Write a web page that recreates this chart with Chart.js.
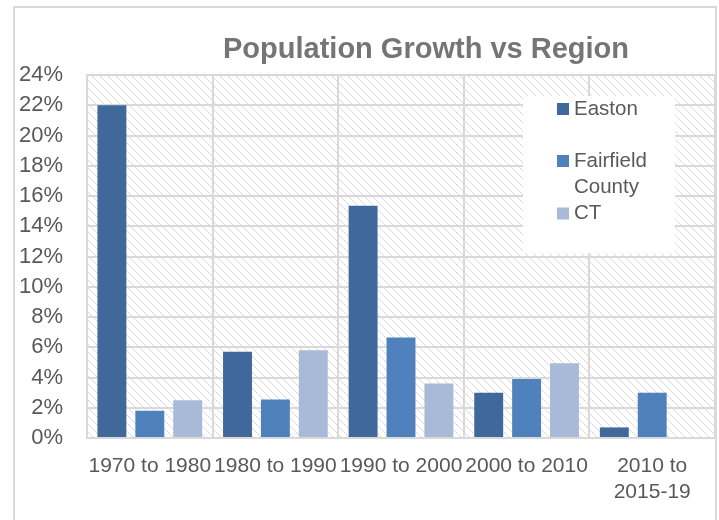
<!DOCTYPE html>
<html>
<head>
<meta charset="utf-8">
<script src="https://cdn.jsdelivr.net/npm/chart.js@4/dist/chart.umd.min.js"></script>
<style>
    html, body { margin: 0; padding: 0; background: #fff; }
    #wrap { position: relative; width: 719px; height: 520px; }
</style>
</head>
<body>
<div id="wrap"><canvas id="mainChart" width="719" height="520"></canvas></div>
<script>
// Data
const categories = ['1970 to 1980', '1980 to 1990', '1990 to 2000', '2000 to 2010', ['2010 to', '2015-19']];
const seriesNames = ['Easton', 'Fairfield County', 'CT'];
const eastonValues = [22.0, 5.7, 15.35, 3.0, 0.7];
const fairfieldValues = [1.8, 2.55, 6.65, 3.9, 3.0];
const ctValues = [2.5, 5.8, 3.6, 4.95, null];
const yTicks = [0, 2, 4, 6, 8, 10, 12, 14, 16, 18, 20, 22, 24];

const colors = ['#41689a', '#4f81bd', '#a9bad9'];
const gridColor = '#d9d9d9';
const textColor = '#595959';
const fontFamily = '"Liberation Sans", Arial, sans-serif';

// Diagonal hatch used as the plot background
function makeHatch() {
    const c = document.createElement('canvas');
    c.width = 8;
    c.height = 8;
    const g = c.getContext('2d');
    g.fillStyle = '#fff';
    g.fillRect(0, 0, 8, 8);
    for (let i = 0; i < 8; i++) {
        g.fillStyle = i % 2 ? '#e2e2e2' : '#d2d2d2';
        g.fillRect(i, i, 1, 1);
    }
    return g.createPattern(c, 'repeat');
}

const backdrop = {
    id: 'backdrop',
    beforeDraw(chart) {
        const { ctx, chartArea } = chart;
        ctx.save();
        // outer chart frame
        ctx.strokeStyle = gridColor;
        ctx.lineWidth = 2;
        ctx.beginPath();
        ctx.moveTo(14, 530);
        ctx.lineTo(14, 7);
        ctx.lineTo(716, 7);
        ctx.lineTo(716, 530);
        ctx.stroke();
        // hatched plot area
        ctx.fillStyle = makeHatch();
        ctx.fillRect(chartArea.left, chartArea.top, chartArea.right - chartArea.left, chartArea.bottom - chartArea.top);
        // title
        ctx.fillStyle = '#757575';
        ctx.font = 'bold 29px ' + fontFamily;
        ctx.textAlign = 'center';
        ctx.textBaseline = 'middle';
        ctx.fillText('Population Growth vs Region', 426, 50);
        ctx.restore();
    }
};

// Legend box sitting over the plot, Fairfield County wraps onto two lines
const legendBox = {
    id: 'legendBox',
    afterDraw(chart) {
        const ctx = chart.ctx;
        ctx.save();
        ctx.fillStyle = '#fff';
        ctx.fillRect(523, 96, 152, 157);
        ctx.font = '20.5px ' + fontFamily;
        ctx.textBaseline = 'middle';
        ctx.textAlign = 'left';
        const rows = [[109, [seriesNames[0]]], [161, ['Fairfield', 'County']], [213.5, [seriesNames[2]]]];
        rows.forEach((row, i) => {
            const ds = chart.data.datasets[i];
            ctx.fillStyle = ds.backgroundColor;
            ctx.fillRect(557, row[0] - 6, 12, 12);
            ctx.fillStyle = textColor;
            row[1].forEach((line, j) => ctx.fillText(line, 574, row[0] + j * 26));
        });
        ctx.restore();
    }
};

const ctx = document.getElementById('mainChart').getContext('2d');

const mainChart = new Chart(ctx, {
    type: 'bar',
    data: {
        labels: categories,
        datasets: [
            { label: seriesNames[0], data: eastonValues, backgroundColor: colors[0] },
            { label: seriesNames[1], data: fairfieldValues, backgroundColor: colors[1] },
            { label: seriesNames[2], data: ctValues, backgroundColor: colors[2] }
        ]
    },
    options: {
        responsive: false,
        animation: false,
        events: [],
        categoryPercentage: 0.905,
        barPercentage: 0.763,
        layout: { padding: { left: 0, top: 75, right: 4, bottom: 0 } },
        plugins: {
            legend: { display: false },
            title: { display: false },
            tooltip: { enabled: false }
        },
        scales: {
            x: {
                grid: { color: gridColor, lineWidth: 2, drawTicks: false, offset: true },
                border: { color: gridColor, width: 2 },
                ticks: {
                    color: textColor,
                    font: { family: fontFamily, size: 21, lineHeight: 1.25 },
                    padding: 15,
                    maxRotation: 0,
                    autoSkip: false
                },
                afterFit: s => { s.height = 82; }
            },
            y: {
                min: 0,
                max: 24,
                afterBuildTicks: s => { s.ticks = yTicks.map(v => ({ value: v })); },
                grid: { color: gridColor, lineWidth: 2, drawTicks: false },
                border: { color: gridColor, width: 2 },
                ticks: {
                    color: textColor,
                    font: { family: fontFamily, size: 22 },
                    padding: 24,
                    callback: v => v + '%'
                },
                afterFit: s => { s.width = 87; }
            }
        }
    },
    plugins: [backdrop, legendBox]
});
</script>
</body>
</html>
